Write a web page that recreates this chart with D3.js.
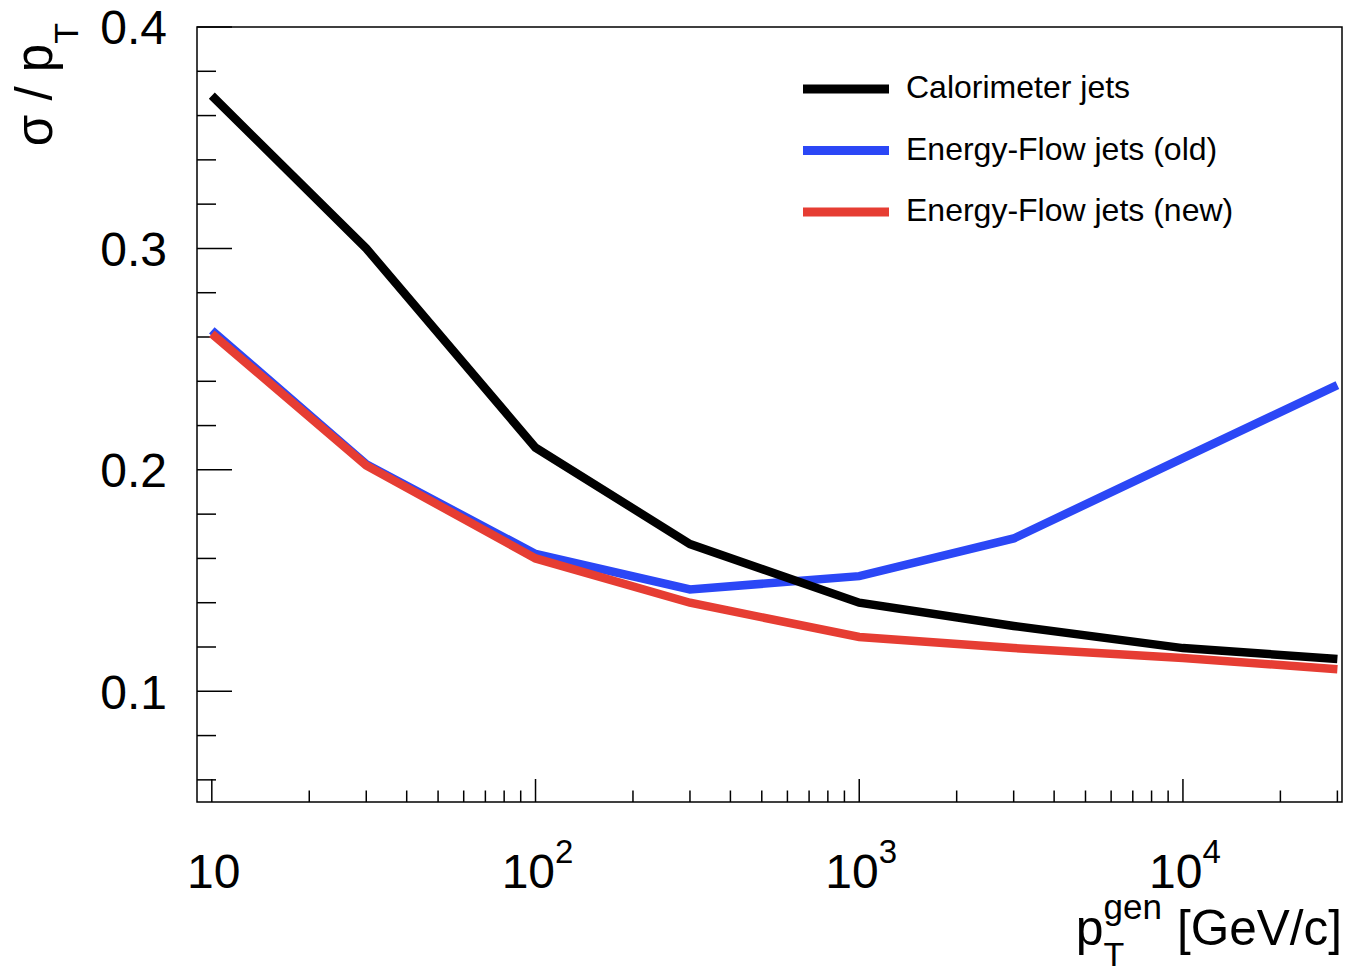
<!DOCTYPE html>
<html lang="en">
<head>
  <meta charset="UTF-8">
  <title>Jet resolution</title>
  <style>
    body { margin: 0; background: #fff; }
    svg text { font-family: "Liberation Sans", Arial, Helvetica, sans-serif; fill: #000; }
  </style>
</head>
<body>
  <div class="chart"></div>

  <script src="https://cdnjs.cloudflare.com/ajax/libs/d3/7.8.5/d3.min.js"></script>
  <script>
    // data
    const ptGen = [10, 30, 100, 300, 1000, 3000, 10000, 30000];
    const caloJets = [0.369, 0.300, 0.210, 0.1665, 0.140, 0.1295, 0.1195, 0.1146];
    const eflowOld = [0.263, 0.2025, 0.162, 0.146, 0.152, 0.169, 0.2053, 0.2383];
    const eflowNew = [0.2615, 0.202, 0.160, 0.140, 0.1245, 0.1195, 0.115, 0.110];

    const seriesNames = ["Calorimeter jets", "Energy-Flow jets (old)", "Energy-Flow jets (new)"];
    const seriesColors = ["#000000", "#2b47f6", "#e63d33"];

    const yMajorTicks = [0.1, 0.2, 0.3, 0.4];
    const yTickLabels = ["0.1", "0.2", "0.3", "0.4"];
    const xMajorTicks = [10, 100, 1000, 10000];
    const xTickExponents = ["", "2", "3", "4"];

    const W = 1351, H = 973;
    const frame = {left: 197, right: 1342, top: 27, bottom: 802};

    const svg = d3.select('.chart')
      .append('svg')
      .attr('width', W)
      .attr('height', H);

    const x = d3.scaleLog()
      .domain([9, 31000])
      .range([frame.left, frame.right]);

    const y = d3.scaleLinear()
      .domain([0.05, 0.4])
      .range([frame.bottom, frame.top]);

    // minor ticks
    const xMinor = [];
    [1, 10, 100, 1000, 10000].forEach(function (dec) {
      for (let k = 2; k <= 9; k++) {
        const v = k * dec;
        if (v > x.domain()[0] * 1.01 && v < x.domain()[1]) xMinor.push(v);
      }
    });
    const yMinor = d3.range(0.06, 0.399, 0.02).filter(function (v) {
      return Math.abs(v * 10 - Math.round(v * 10)) > 1e-6;
    });

    const ticks = svg.append('g')
      .attr('stroke', '#000')
      .attr('stroke-width', 1.5);

    ticks.selectAll('.xmin').data(xMinor).enter().append('line')
      .attr('x1', d => x(d)).attr('x2', d => x(d))
      .attr('y1', frame.bottom).attr('y2', frame.bottom - 11.5);
    ticks.selectAll('.xmaj').data(xMajorTicks).enter().append('line')
      .attr('x1', d => x(d)).attr('x2', d => x(d))
      .attr('y1', frame.bottom).attr('y2', frame.bottom - 23);
    ticks.selectAll('.ymin').data(yMinor).enter().append('line')
      .attr('x1', frame.left).attr('x2', frame.left + 19)
      .attr('y1', d => y(d)).attr('y2', d => y(d));
    ticks.selectAll('.ymaj').data(yMajorTicks).enter().append('line')
      .attr('x1', frame.left).attr('x2', frame.left + 35)
      .attr('y1', d => y(d)).attr('y2', d => y(d));

    // frame
    svg.append('rect')
      .attr('x', frame.left).attr('y', frame.top)
      .attr('width', frame.right - frame.left)
      .attr('height', frame.bottom - frame.top)
      .attr('fill', 'none')
      .attr('stroke', '#000')
      .attr('stroke-width', 1.5);

    // tick labels
    svg.selectAll('.ylab').data(yMajorTicks).enter().append('text')
      .attr('x', 167)
      .attr('y', d => y(d))
      .attr('dy', '0.36em')
      .attr('text-anchor', 'end')
      .attr('font-size', 48)
      .text((d, i) => yTickLabels[i]);

    const xl = svg.selectAll('.xlab').data(xMajorTicks).enter().append('text')
      .attr('x', d => x(d) + 2)
      .attr('y', 888)
      .attr('text-anchor', 'middle')
      .attr('font-size', 48);
    xl.append('tspan').text('10');
    xl.append('tspan')
      .attr('dy', -25)
      .attr('font-size', 33)
      .text((d, i) => xTickExponents[i]);

    // curves
    const line = d3.line()
      .x((d, i) => x(ptGen[i]))
      .y(d => y(d));

    const allSeries = [caloJets, eflowOld, eflowNew];
    const drawOrder = [1, 2, 0];
    drawOrder.forEach(function (s) {
      svg.append('path')
        .datum(allSeries[s])
        .attr('d', line)
        .attr('fill', 'none')
        .attr('stroke', seriesColors[s])
        .attr('stroke-width', 8.5)
        .attr('stroke-linejoin', 'miter');
    });

    // legend
    const leg = svg.append('g').attr('transform', 'translate(803,89)');
    seriesNames.forEach(function (name, i) {
      const row = leg.append('g').attr('transform', 'translate(0,' + (i * 61.5) + ')');
      row.append('line')
        .attr('x1', 0).attr('x2', 86)
        .attr('y1', 0).attr('y2', 0)
        .attr('stroke', seriesColors[i])
        .attr('stroke-width', 9);
      row.append('text')
        .attr('x', 103)
        .attr('y', -2)
        .attr('dy', '0.35em')
        .attr('font-size', 32)
        .text(name);
    });

    // x title: p_T^gen [GeV/c]
    const unit = svg.append('text')
      .attr('x', frame.right)
      .attr('y', 945)
      .attr('text-anchor', 'end')
      .attr('font-size', 49.5)
      .text('[GeV/c]');
    const unitStart = frame.right - unit.node().getComputedTextLength();
    const gen = svg.append('text')
      .attr('y', 919)
      .attr('font-size', 35)
      .text('gen');
    const genX = unitStart - 15 - gen.node().getComputedTextLength();
    gen.attr('x', genX);
    svg.append('text')
      .attr('x', genX)
      .attr('y', 966)
      .attr('font-size', 34)
      .text('T');
    svg.append('text')
      .attr('x', genX)
      .attr('y', 945)
      .attr('text-anchor', 'end')
      .attr('font-size', 50)
      .text('p');

    // y title: sigma / p_T
    const yt = svg.append('text')
      .attr('transform', 'translate(52,23) rotate(-90)')
      .attr('text-anchor', 'end')
      .attr('font-size', 51);
    yt.append('tspan').text('σ / p');
    yt.append('tspan')
      .attr('dy', 26)
      .attr('font-size', 34)
      .text('T');
  </script>
</body>
</html>
